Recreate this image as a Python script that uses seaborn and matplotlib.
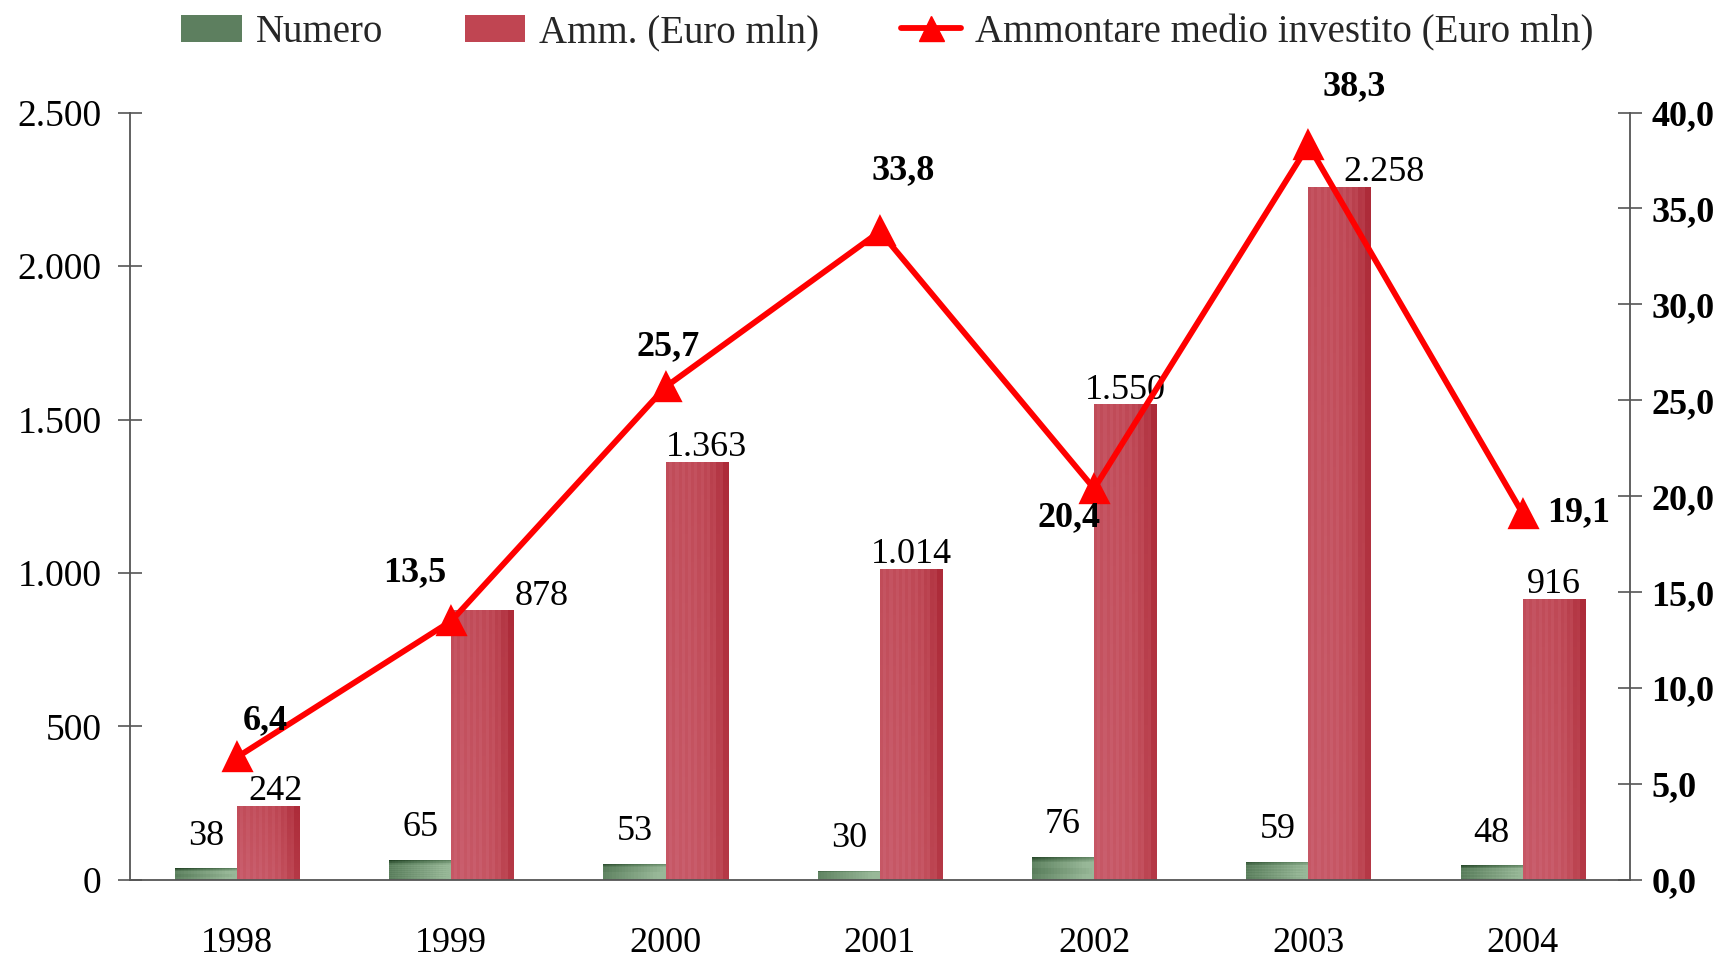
import numpy as np
import pandas as pd
import seaborn as sns
import matplotlib.pyplot as plt
from matplotlib.patches import Patch
from matplotlib.lines import Line2D
from matplotlib.colors import LinearSegmentedColormap

# data
years = ["1998", "1999", "2000", "2001", "2002", "2003", "2004"]
numero = [38, 65, 53, 30, 76, 59, 48]
ammontare = [242, 878, 1363, 1014, 1550, 2258, 916]
medio = [6.4, 13.5, 25.7, 33.8, 20.4, 38.3, 19.1]

# label nudges (points)
amm_dx = [5, 43, 7, 0, 0, 32, 0]
medio_off = [(20, 26), (-26, 35), (2, 29), (17, 44), (-18, -21), (33, 42), (40, 1)]


def it_int(v):
    return f"{v:,}".replace(",", ".")


def it_dec(v):
    return f"{v:.1f}".replace(".", ",")


sns.set_theme(style="white")
plt.rcParams["font.family"] = ["Liberation Serif", "DejaVu Serif"]
FS = 26
axcol = "#555555"

df = pd.DataFrame({
    "anno": years * 2,
    "serie": ["Numero"] * len(years) + ["Amm. (Euro mln)"] * len(years),
    "valore": numero + ammontare,
})

green = "#5d7f5f"
red = "#c04552"

fig = plt.figure(figsize=(17.3, 9.57), dpi=100)
ax = fig.add_axes([0.0751, 0.0805, 0.867, 0.8019])
sns.barplot(data=df, x="anno", y="valore", hue="serie", palette=[green, red],
            width=0.58, saturation=1, legend=False, ax=ax)

# textured gradient fill on the bars
cm_green = LinearSegmentedColormap.from_list("g", ["#1c3c1f", "#5a7e5c", "#98b898"])
cm_red = LinearSegmentedColormap.from_list("r", ["#d6788a", "#c24e5b", "#a51e2c"])
ny, nx = 200, 20
gy, gx = np.mgrid[0:ny, 0:nx]
xf, yf = gx / (nx - 1), gy / (ny - 1)
grad_g = 0.5 * xf + 0.5 * np.clip(yf * 4, 0, 1) + 0.06 * ((gy // 2) % 2)
grad_r = 0.38 + 0.14 * (1 - yf) + 0.42 * xf ** 4 - 0.08 * (gx % 2)
for cont, grad, cmap in zip(ax.containers, [grad_g, grad_r], [cm_green, cm_red]):
    for bar in cont:
        x0, w, h = bar.get_x(), bar.get_width(), bar.get_height()
        im = ax.imshow(np.clip(grad, 0, 1), extent=[x0, x0 + w, 0, h], cmap=cmap,
                       vmin=0, vmax=1, aspect="auto", interpolation="nearest",
                       zorder=bar.get_zorder() + 0.1)
        im.set_clip_path(bar)

# value labels on bars
for i, bar in enumerate(ax.containers[0]):
    ax.annotate(str(numero[i]), (bar.get_x() + bar.get_width() / 2, bar.get_height()),
                xytext=(0, 17), textcoords="offset points", ha="center", va="baseline",
                fontsize=FS, color="black")
for i, bar in enumerate(ax.containers[1]):
    ax.annotate(it_int(ammontare[i]), (bar.get_x() + bar.get_width() / 2, bar.get_height()),
                xytext=(amm_dx[i], 4), textcoords="offset points", ha="center", va="baseline",
                fontsize=FS, color="black")

ax.set_xlim(-0.5, len(years) - 0.5)
ax.set_ylim(0, 2500)
ax.set_yticks(range(0, 2501, 500))
ax.set_yticklabels([it_int(v) for v in range(0, 2501, 500)])
ax.set_xticks(range(len(years)))
ax.set_xticklabels(years)
ax.set_xticks(np.arange(-0.5, len(years), 1.0), minor=True)
ax.tick_params(axis="x", which="major", length=0, labelsize=FS, pad=34, colors="black")
ax.tick_params(axis="x", which="minor", direction="inout", length=17, width=1.2, color=axcol)
ax.tick_params(axis="y", direction="inout", length=17, width=1.2, color=axcol,
               labelsize=27, pad=12, labelcolor="black")
ax.set_xlabel("")
ax.set_ylabel("")
for s in ["top", "right"]:
    ax.spines[s].set_visible(False)
for s in ["left", "bottom"]:
    ax.spines[s].set_color(axcol)
    ax.spines[s].set_linewidth(1.3)

# average amount line on the right axis
ax2 = ax.twinx()
sns.pointplot(x=years, y=medio, color="#ff0000", markers="^", markersize=18,
              linewidth=4.2, errorbar=None, ax=ax2)
for i, v in enumerate(medio):
    ax2.annotate(it_dec(v), (i, v), xytext=medio_off[i], textcoords="offset points",
                 ha="center", va="center", fontsize=FS, fontweight="bold", color="black")
ax2.set_xlim(-0.5, len(years) - 0.5)
ax2.set_ylim(0, 40)
ax2.set_yticks(np.arange(0, 41, 5))
ax2.set_yticklabels([it_dec(v) for v in np.arange(0, 41, 5)], fontweight="bold")
ax2.tick_params(axis="y", direction="inout", length=17, width=1.2, color=axcol,
                labelsize=FS, pad=7, labelcolor="black")
ax2.set_xlabel("")
ax2.set_ylabel("")
for s in ["top", "left", "bottom"]:
    ax2.spines[s].set_visible(False)
ax2.spines["right"].set_color(axcol)
ax2.spines["right"].set_linewidth(1.3)

handles = [
    Patch(facecolor=green, edgecolor="none"),
    Patch(facecolor=red, edgecolor="none"),
    Line2D([], [], color="#ff0000", lw=4.2, marker="^", markersize=18),
]
labels = ["Numero", "Amm. (Euro mln)", "Ammontare medio investito (Euro mln)"]
fig.legend(handles, labels, loc="center", bbox_to_anchor=(0.513, 0.966), ncol=3,
           frameon=False, fontsize=28, handlelength=1.55, handletextpad=0.36,
           columnspacing=2.1)

fig.savefig("out.png", dpi=100)
